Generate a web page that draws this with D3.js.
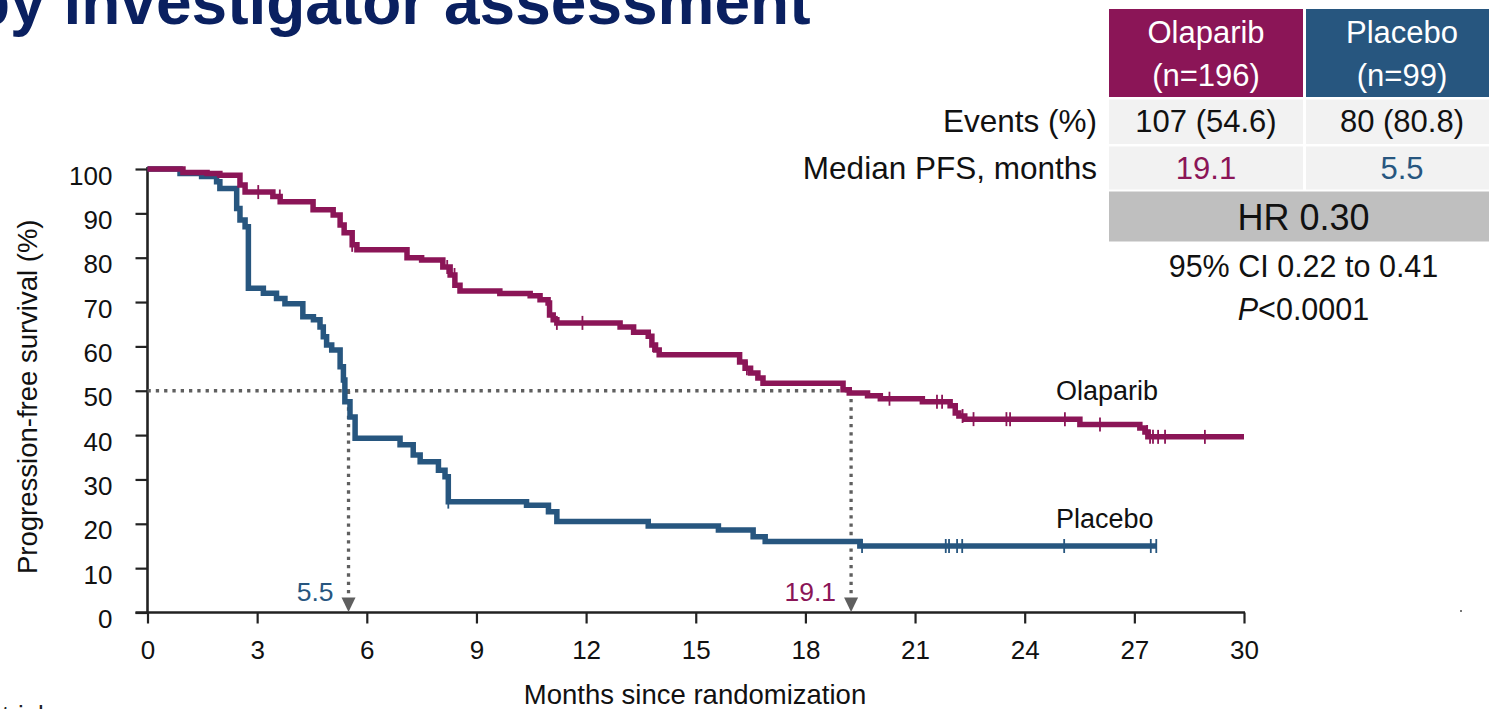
<!DOCTYPE html>
<html>
<head>
<meta charset="utf-8">
<script src="https://cdn.jsdelivr.net/npm/d3@7"></script>
<style>
  html, body { margin: 0; padding: 0; background: #fff; overflow: hidden; }
  svg { display: block; font-family: 'Liberation Sans', Arial, sans-serif; }
</style>
</head>
<body>
<div id="chart"></div>
<script>
// PFS Kaplan-Meier, olaparib vs placebo

const width = 1489;
const height = 709;

const olaColor = '#8b1557';
const plaColor = '#27567f';
const refColor = '#5f5f5f';

// table
const arms = ['Olaparib', 'Placebo'];
const armN = ['(n=196)', '(n=99)'];
const rowLabels = ['Events (%)', 'Median PFS, months'];
const events = ['107 (54.6)', '80 (80.8)'];
const medianPfs = ['19.1', '5.5'];
const hrText = 'HR 0.30';
const ciText = '95% CI 0.22 to 0.41';
const pText = '<0.0001';

// axes
const xTicks = [0, 3, 6, 9, 12, 15, 18, 21, 24, 27, 30];
const yTicks = [0, 10, 20, 30, 40, 50, 60, 70, 80, 90, 100];

// [month, % progression-free] after each step
const olaparibSteps = [
  [0, 100], [0.97, 99.2], [1.63, 99.0], [1.98, 98.6], [2.53, 96.4], [2.67, 94.8],
  [3.43, 93.8], [3.63, 92.6], [4.53, 90.8], [5.08, 89.6], [5.27, 87.4], [5.38, 85.6],
  [5.6, 82.9], [5.73, 81.8], [7.1, 80.0], [7.5, 79.5], [8.08, 77.9], [8.28, 76.1],
  [8.41, 73.8], [8.55, 72.5], [9.64, 71.9], [10.47, 71.4], [10.74, 70.5], [10.96, 69.8],
  [11.0, 67.1], [11.1, 66.0], [11.2, 65.3], [12.93, 64.4], [13.3, 63.2], [13.7, 62.3],
  [13.8, 60.3], [13.9, 59.2], [14.0, 58.1], [16.2, 56.5], [16.35, 55.1], [16.5, 54.0],
  [16.7, 52.9], [16.84, 51.7], [19.03, 50.2], [19.2, 49.5], [19.7, 48.9], [20.05, 48.2],
  [21.2, 47.5], [21.96, 46.6], [22.1, 45.0], [22.2, 44.3], [22.36, 43.6], [25.51, 42.4],
  [27.15, 41.6], [27.29, 40.7], [27.37, 39.6], [30, 39.6]
];
const olaparibCensor = [
  3.03, 3.62, 5.6, 8.2, 8.4, 11.2, 11.9, 13.83, 16.4, 20.3, 21.6, 21.74, 22.3, 22.6,
  23.5, 23.6, 25.1, 26.06, 27.35, 27.43, 27.51, 27.65, 27.84, 28.93
];

const placeboSteps = [
  [0, 100], [0.89, 99.0], [1.48, 98.3], [1.89, 97.1], [1.98, 95.6], [2.44, 91.1],
  [2.53, 88.5], [2.67, 87.0], [2.76, 73.1], [3.17, 72.0], [3.53, 70.8], [3.76, 69.6],
  [4.25, 66.7], [4.54, 66.0], [4.72, 64.4], [4.81, 62.2], [4.9, 60.3], [5.04, 59.2],
  [5.27, 55.4], [5.36, 52.4], [5.4, 47.5], [5.54, 44.1], [5.68, 39.3], [6.91, 37.8],
  [7.27, 35.5], [7.46, 34.0], [7.96, 32.1], [8.14, 30.6], [8.23, 25.0], [10.37, 24.2],
  [10.97, 22.7], [11.2, 20.5], [13.7, 19.5], [15.62, 18.6], [16.57, 17.1], [16.9, 16.0],
  [19.49, 15.0], [27.6, 15.0]
];
const placeboCensor = [8.23, 19.55, 21.84, 21.93, 22.15, 22.29, 25.08, 27.45, 27.6];

// median reference arrows, position as drawn (olaparib, placebo)
const medianT = [19.25, 5.5];

const svg = d3
  .select('#chart')
  .append('svg')
  .attr('width', width)
  .attr('height', height);

const x = d3.scaleLinear().domain([0, 30]).range([147.5, 1244]);
const y = d3.scaleLinear().domain([0, 100]).range([612.5, 169]);

// title (cut off at top of slide)
svg
  .append('text')
  .attr('x', -29)
  .attr('y', 24)
  .style('font-size', '64px')
  .style('font-weight', 'bold')
  .attr('fill', '#0a2060')
  .text('by investigator assessment');

// fragment of footnote at bottom left
svg
  .append('text')
  .attr('x', 2)
  .attr('y', 724)
  .style('font-size', '26px')
  .attr('fill', '#222')
  .text('trial');

svg
  .append('rect')
  .attr('x', 1460)
  .attr('y', 610)
  .attr('width', 2)
  .attr('height', 2)
  .attr('fill', '#777');

// ---- axes
const yAxis = d3.axisLeft(y).tickValues(yTicks).tickSize(12).tickPadding(23);
const gy = svg.append('g').attr('transform', `translate(${x(0)},0)`).call(yAxis);
gy.select('.domain').remove();
gy.selectAll('.tick line').attr('stroke', '#222').attr('stroke-width', 2.2);
gy.selectAll('.tick text')
  .attr('dy', '0.58em')
  .style('font-size', '26px')
  .style('font-family', "'Liberation Sans', Arial, sans-serif")
  .attr('fill', '#111');

const xAxis = d3.axisBottom(x).tickValues(xTicks).tickSize(11).tickPadding(17);
const gx = svg.append('g').attr('transform', `translate(0,${y(0)})`).call(xAxis);
gx.select('.domain').remove();
gx.selectAll('.tick line').attr('stroke', '#222').attr('stroke-width', 2.2);
gx.selectAll('.tick text')
  .style('font-size', '26px')
  .style('font-family', "'Liberation Sans', Arial, sans-serif")
  .attr('fill', '#111');

svg
  .append('line')
  .attr('x1', x(0))
  .attr('x2', x(0))
  .attr('y1', y(100) - 2)
  .attr('y2', y(0) + 1)
  .attr('stroke', '#222')
  .attr('stroke-width', 2.6);
svg
  .append('line')
  .attr('x1', x(0) - 12)
  .attr('x2', x(30) + 1)
  .attr('y1', y(0))
  .attr('y2', y(0))
  .attr('stroke', '#222')
  .attr('stroke-width', 2.6);

svg
  .append('text')
  .attr('transform', `translate(37,${(y(0) + y(100)) / 2 + 6}) rotate(-90)`)
  .attr('text-anchor', 'middle')
  .style('font-size', '27.5px')
  .attr('fill', '#111')
  .text('Progression-free survival (%)');

svg
  .append('text')
  .attr('x', 695)
  .attr('y', 704)
  .attr('text-anchor', 'middle')
  .style('font-size', '27.5px')
  .attr('fill', '#111')
  .text('Months since randomization');

// ---- median reference lines
const dots = '3.3,5';
svg
  .append('line')
  .attr('x1', x(0))
  .attr('x2', x(d3.max(medianT)))
  .attr('y1', y(50))
  .attr('y2', y(50))
  .attr('stroke', refColor)
  .attr('stroke-width', 3.3)
  .attr('stroke-dasharray', dots);

const medG = svg.selectAll('g.median').data(medianT).enter().append('g').attr('class', 'median');
medG
  .append('line')
  .attr('x1', d => x(d))
  .attr('x2', d => x(d))
  .attr('y1', y(50))
  .attr('y2', y(0) - 15)
  .attr('stroke', refColor)
  .attr('stroke-width', 3.3)
  .attr('stroke-dasharray', dots);
medG
  .append('path')
  .attr('d', d => `M${x(d) - 7},${y(0) - 15}L${x(d) + 7},${y(0) - 15}L${x(d)},${y(0) - 0.5}Z`)
  .attr('fill', refColor);
medG
  .append('text')
  .attr('x', d => x(d) - 15)
  .attr('y', y(0) - 12)
  .attr('text-anchor', 'end')
  .style('font-size', '26.5px')
  .attr('fill', (d, i) => (i === 0 ? olaColor : plaColor))
  .text((d, i) => medianPfs[i]);

// ---- survival curves
const line = d3
  .line()
  .x(d => x(d[0]))
  .y(d => y(d[1]))
  .curve(d3.curveStepAfter);

function survAt(steps, t) {
  let s = steps[0][1];
  steps.forEach(p => {
    if (p[0] <= t) s = p[1];
  });
  return s;
}

const curves = [
  { steps: placeboSteps, censor: placeboCensor, color: plaColor },
  { steps: olaparibSteps, censor: olaparibCensor, color: olaColor }
];

curves.forEach(c => {
  svg
    .append('path')
    .datum(c.steps)
    .attr('d', line)
    .attr('fill', 'none')
    .attr('stroke', c.color)
    .attr('stroke-width', 5.5)
    .attr('stroke-linejoin', 'miter');
  svg
    .append('g')
    .selectAll('line')
    .data(c.censor)
    .enter()
    .append('line')
    .attr('x1', d => x(d))
    .attr('x2', d => x(d))
    .attr('y1', d => y(survAt(c.steps, d)) - 7)
    .attr('y2', d => y(survAt(c.steps, d)) + 7)
    .attr('stroke', c.color)
    .attr('stroke-width', 1.8);
});

svg
  .append('text')
  .attr('x', 1056)
  .attr('y', 400)
  .style('font-size', '27px')
  .attr('fill', '#111')
  .text(arms[0]);
svg
  .append('text')
  .attr('x', 1056)
  .attr('y', 528)
  .style('font-size', '27px')
  .attr('fill', '#111')
  .text(arms[1]);

// ---- summary table
const colX = [1109, 1306];
const colW = [194, 192];
const colMid = colX.map((v, i) => v + colW[i] / 2);

const table = svg.append('g');
arms.forEach((a, i) => {
  table
    .append('rect')
    .attr('x', colX[i])
    .attr('y', 9)
    .attr('width', colW[i])
    .attr('height', 88)
    .attr('fill', i === 0 ? olaColor : plaColor);
  table
    .append('text')
    .attr('x', colMid[i])
    .attr('y', 43)
    .attr('text-anchor', 'middle')
    .style('font-size', '31px')
    .attr('fill', '#fff')
    .text(a);
  table
    .append('text')
    .attr('x', colMid[i])
    .attr('y', 86)
    .attr('text-anchor', 'middle')
    .style('font-size', '31px')
    .attr('fill', '#fff')
    .text(armN[i]);

  // events + median cells
  [events[i], medianPfs[i]].forEach((v, r) => {
    table
      .append('rect')
      .attr('x', colX[i])
      .attr('y', r === 0 ? 99.5 : 146.5)
      .attr('width', colW[i])
      .attr('height', r === 0 ? 44.5 : 43)
      .attr('fill', '#f2f2f2');
    table
      .append('text')
      .attr('x', colMid[i])
      .attr('y', r === 0 ? 132 : 178.5)
      .attr('text-anchor', 'middle')
      .style('font-size', '31px')
      .attr('fill', r === 0 ? '#111' : i === 0 ? olaColor : plaColor)
      .text(v);
  });
});

rowLabels.forEach((lab, r) => {
  table
    .append('text')
    .attr('x', 1097)
    .attr('y', r === 0 ? 132 : 178.5)
    .attr('text-anchor', 'end')
    .style('font-size', '31.5px')
    .attr('fill', '#111')
    .text(lab);
});

table
  .append('rect')
  .attr('x', colX[0])
  .attr('y', 191.5)
  .attr('width', colX[1] + colW[1] - colX[0])
  .attr('height', 50)
  .attr('fill', '#bfbfbf');
const tableMid = (colX[0] + colX[1] + colW[1]) / 2;
table
  .append('text')
  .attr('x', tableMid)
  .attr('y', 230)
  .attr('text-anchor', 'middle')
  .style('font-size', '36px')
  .attr('fill', '#111')
  .text(hrText);
table
  .append('text')
  .attr('x', tableMid)
  .attr('y', 276.5)
  .attr('text-anchor', 'middle')
  .style('font-size', '30.5px')
  .attr('fill', '#111')
  .text(ciText);
const pLine = table
  .append('text')
  .attr('x', tableMid)
  .attr('y', 320)
  .attr('text-anchor', 'middle')
  .style('font-size', '30.5px')
  .attr('fill', '#111');
pLine.append('tspan').style('font-style', 'italic').text('P');
pLine.append('tspan').text(pText);
</script>
</body>
</html>
